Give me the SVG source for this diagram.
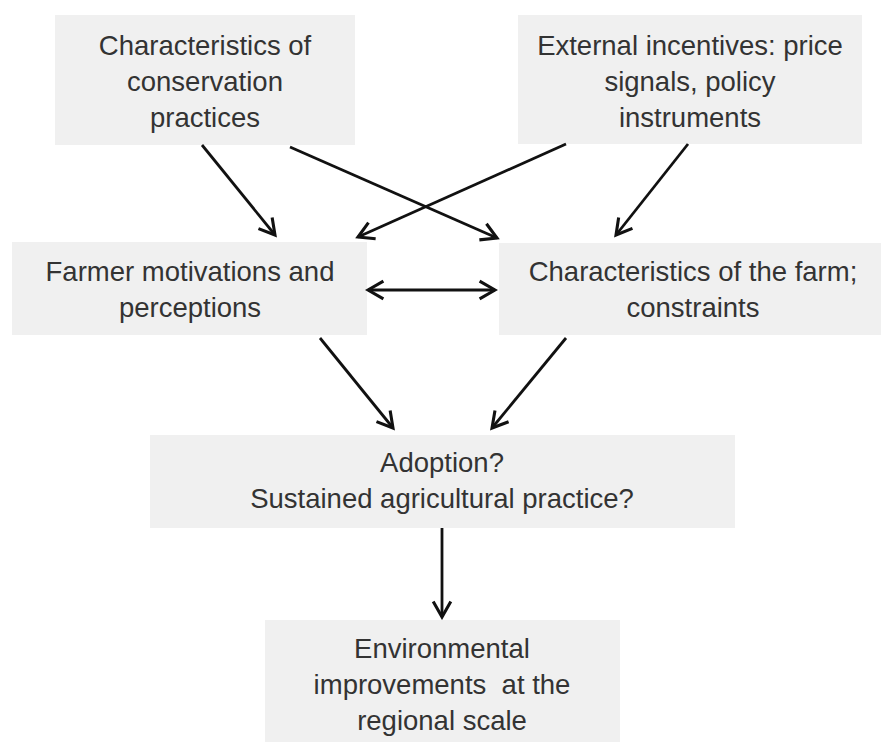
<svg xmlns="http://www.w3.org/2000/svg" width="881" height="742" viewBox="0 0 881 742">
<defs>
<style>
.box{fill:#f0f0f0;stroke:none}
.t{font-family:"Liberation Sans",Arial,sans-serif;font-size:27.5px;fill:#333;text-anchor:middle}
.c{stroke:#111;stroke-width:2.8;fill:none;marker-end:url(#ah)}
</style>
<marker id="ah" markerUnits="userSpaceOnUse" markerWidth="22" markerHeight="22" viewBox="0 0 20 20" refX="17" refY="10" orient="auto-start-reverse">
<path d="M3,2 L17,10 L3,18" fill="none" stroke="#111" stroke-width="2.8" stroke-linejoin="miter"/>
</marker>
</defs>
<rect width="881" height="742" fill="#fff"/>
<g id="n1">
<rect class="box" x="55" y="15" width="300" height="130"/>
<text class="t" x="205" y="55">Characteristics of</text>
<text class="t" x="205" y="91">conservation</text>
<text class="t" x="205" y="127">practices</text>
</g>
<g id="n2">
<rect class="box" x="518" y="15" width="344" height="129"/>
<text class="t" x="690" y="55">External incentives: price</text>
<text class="t" x="690" y="91">signals, policy</text>
<text class="t" x="690" y="127">instruments</text>
</g>
<g id="n3">
<rect class="box" x="12" y="242" width="355" height="93"/>
<text class="t" x="190" y="281">Farmer motivations and</text>
<text class="t" x="190" y="317">perceptions</text>
</g>
<g id="n4">
<rect class="box" x="499" y="243" width="382" height="92"/>
<text class="t" x="693" y="281">Characteristics of the farm;</text>
<text class="t" x="693" y="317">constraints</text>
</g>
<g id="n5">
<rect class="box" x="150" y="435" width="585" height="93"/>
<text class="t" x="442" y="472">Adoption?</text>
<text class="t" x="442" y="508">Sustained agricultural practice?</text>
</g>
<g id="n6">
<rect class="box" x="265" y="620" width="355" height="122"/>
<text class="t" x="442" y="658">Environmental</text>
<text class="t" x="442" y="694" xml:space="preserve">improvements  at the</text>
<text class="t" x="442" y="730">regional scale</text>
</g>
<g id="connectors">
<line class="c" x1="202" y1="145" x2="275" y2="235"/>
<line class="c" x1="290" y1="147" x2="497" y2="238"/>
<line class="c" x1="566" y1="144" x2="358" y2="237"/>
<line class="c" x1="688" y1="144" x2="616" y2="235"/>
<line class="c" x1="368" y1="290" x2="495" y2="290" marker-start="url(#ah)"/>
<line class="c" x1="320" y1="338" x2="393" y2="428"/>
<line class="c" x1="566" y1="338" x2="492" y2="428"/>
<line class="c" x1="442" y1="528" x2="442" y2="617"/>
</g>
</svg>
